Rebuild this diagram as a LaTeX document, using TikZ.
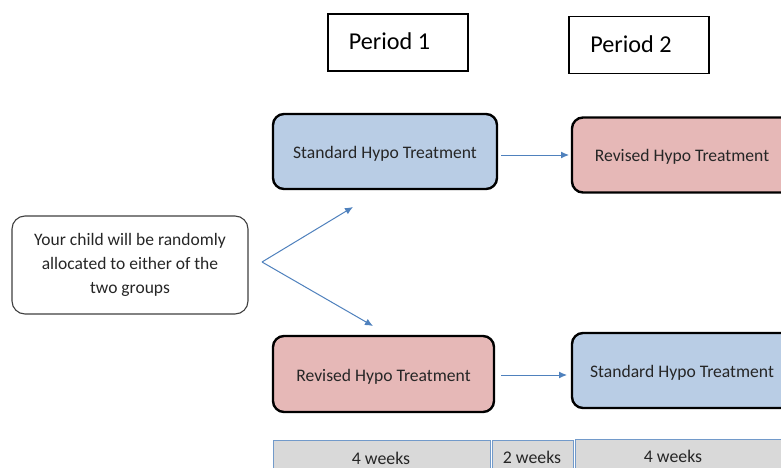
\documentclass[tikz,border=0pt]{standalone}
\usepackage{fontspec}
\setmainfont{Carlito}
\usetikzlibrary{arrows.meta}
\definecolor{stdblue}{HTML}{B9CDE5}
\definecolor{revred}{HTML}{E6B8B7}
\definecolor{arrblue}{HTML}{4F81BD}
\definecolor{bargray}{HTML}{D9D9D9}
\definecolor{txt}{HTML}{262626}
\tikzset{
  tfont/.style={font=\fontsize{17.6}{21}\selectfont, text=txt},
  treat/.style={draw=black, line width=2.4pt, rounded corners=11pt, minimum width=220pt, minimum height=75pt, inner sep=0pt},
  stdbox/.style={treat, fill=stdblue},
  revbox/.style={treat, fill=revred},
  perbox/.style={draw=black, line width=1.4pt, minimum width=140pt, minimum height=57pt, inner sep=0pt},
  pertext/.style={font=\fontsize{24.2}{28}\selectfont, text=black, inner sep=0pt},
  infobox/.style={draw=black!75, line width=1.1pt, rounded corners=13pt, minimum width=236pt, minimum height=98pt, align=center, text=txt, font=\fontsize{17.5}{24}\selectfont},
  bar/.style={draw=arrblue!80, line width=1pt, fill=bargray, inner sep=0pt},
  bartext/.style={font=\fontsize{17.8}{20}\selectfont, text=txt, inner sep=0pt},
  arr/.style={draw=arrblue, line width=1pt, -{Latex[length=8pt,width=7pt]}}
}
\begin{document}
\begin{tikzpicture}[x=1pt,y=-1pt]
\useasboundingbox (0,0) rectangle (781,468);
\clip (0,0) rectangle (781,468);
\fill[white] (0,0) rectangle (781,468);
% period boxes
\node[perbox] (p1) at (398,42.5) {};
\node[pertext] (p1t) at (389.5,41) {Period 1};
\node[perbox] (p2) at (639,45) {};
\node[pertext] (p2t) at (631,44) {Period 2};
% treatments
\node[stdbox, minimum width=224pt] (s1) at (385,151.5) {};
\node[tfont, inner sep=0pt] (s1t) at (385,154) {Standard Hypo Treatment};
\node[revbox] (r1) at (682,155) {};
\node[tfont, inner sep=0pt] (r1t) at (682,157) {Revised Hypo Treatment};
\node[revbox, minimum width=221pt, minimum height=76pt] (r2) at (383.5,374) {};
\node[tfont, inner sep=0pt] (r2t) at (383.5,376.5) {Revised Hypo Treatment};
\node[stdbox] (s2) at (682,370.5) {};
\node[tfont, inner sep=0pt] (s2t) at (682,373) {Standard Hypo Treatment};
% info
\node[infobox] (info) at (130,265) {Your child will be randomly\\allocated to either of the\\two groups};
% arrows
\coordinate (split) at (262,262);
\coordinate (up) at (353,207);
\coordinate (down) at (373,326);
\draw[arr] (split) -- (up);
\draw[arr] (split) -- (down);
\coordinate (a1a) at (501,155);
\coordinate (a1b) at (569,155);
\draw[arr] (a1a) -- (a1b);
\coordinate (a2a) at (501,375);
\coordinate (a2b) at (567,375);
\draw[arr] (a2a) -- (a2b);
% bars
\node[bar, minimum width=217pt, minimum height=40pt, anchor=north west] (b1) at (273,440) {};
\node[bar, minimum width=81pt, minimum height=40pt, anchor=north west] (b2) at (492,440) {};
\node[bar, minimum width=217pt, minimum height=40pt, anchor=north west] (b3) at (575,439) {};
\node[bartext] (b1t) at (381,458) {4 weeks};
\node[bartext] (b2t) at (532,457) {2 weeks};
\node[bartext] (b3t) at (673,456) {4 weeks};
\end{tikzpicture}
\end{document}
